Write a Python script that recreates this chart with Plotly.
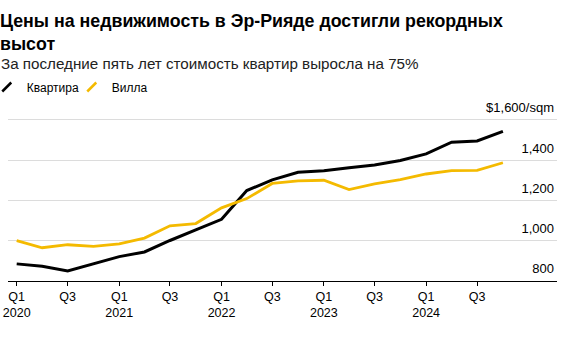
import plotly.graph_objects as go
import pandas as pd

quarters = ["2020Q1", "2020Q2", "2020Q3", "2020Q4",
            "2021Q1", "2021Q2", "2021Q3", "2021Q4",
            "2022Q1", "2022Q2", "2022Q3", "2022Q4",
            "2023Q1", "2023Q2", "2023Q3", "2023Q4",
            "2024Q1", "2024Q2", "2024Q3", "2024Q4"]
apartment = [885, 873, 850, 885, 921, 944, 1001, 1054, 1106, 1249,
             1302, 1340, 1347, 1362, 1376, 1398, 1431, 1489, 1495, 1543]
villa = [1000, 965, 980, 972, 984, 1013, 1074, 1085, 1163, 1209,
         1284, 1297, 1300, 1254, 1282, 1303, 1331, 1348, 1349, 1387]

tick_quarters = ["2020Q1", "2020Q3", "2021Q1", "2021Q3", "2022Q1",
                 "2022Q3", "2023Q1", "2023Q3", "2024Q1", "2024Q3"]
tick_text = ["Q1<br>2020", "Q3", "Q1<br>2021", "Q3", "Q1<br>2022",
             "Q3", "Q1<br>2023", "Q3", "Q1<br>2024", "Q3"]
y_ticks = [800, 1000, 1200, 1400, 1600]
y_text = ["800", "1,000", "1,200", "1,400", "$1,600/sqm"]

names = ["Квартира", "Вилла"]
colors = ["#000000", "#F4BA00"]

x = pd.PeriodIndex(quarters, freq="Q").to_timestamp()
tickvals = pd.PeriodIndex(tick_quarters, freq="Q").to_timestamp()

FONT = "Liberation Sans, Arial, sans-serif"

fig = go.Figure()
for name, vals, col, w in [(names[0], apartment, colors[0], 3), (names[1], villa, colors[1], 2.8)]:
    fig.add_trace(go.Scatter(x=x, y=vals, mode="lines", name=name,
                             line=dict(color=col, width=w), showlegend=False))
# legend entries
for name, col in zip(names, colors):
    fig.add_trace(go.Scatter(x=[None], y=[None], mode="markers", name=name,
                             marker=dict(symbol="line-ne", size=9,
                                         line=dict(color=col, width=2.5))))

PLOT_TOP = 100
PLOT_H = 281 - PLOT_TOP

fig.update_layout(
    width=580, height=342,
    margin=dict(l=8, r=23, t=PLOT_TOP, b=342 - 281, autoexpand=False),
    paper_bgcolor="white", plot_bgcolor="white",
    font=dict(family=FONT, size=13, color="#000000"),
    title=dict(text="<b>Цены на недвижимость в Эр-Рияде достигли рекордных<br>высот</b>",
               font=dict(family=FONT, size=17.8, color="#000000"),
               x=0.0, xref="container", xanchor="left",
               y=1 - 26.5 / 342, yref="container", yanchor="middle"),
    showlegend=True,
    legend=dict(orientation="h", x=-0.0387, xref="paper", xanchor="left",
                y=1 - 87 / 342, yref="container", yanchor="middle",
                font=dict(family=FONT, size=12, color="#000000"),
                bgcolor="rgba(0,0,0,0)", itemwidth=30, traceorder="normal",
                entrywidth=40, entrywidthmode="pixels"),
    annotations=[dict(text="За последние пять лет стоимость квартир выросла на 75%",
                      xref="paper", yref="paper", x=-9 / 549, y=(281 - 63.5) / PLOT_H,
                      xanchor="left", yanchor="middle", showarrow=False,
                      font=dict(family=FONT, size=15.2, color="#222222"))],
)

fig.update_xaxes(
    type="date", range=["2019-12-01", "2025-04-12"],
    tickvals=tickvals, ticktext=tick_text,
    showline=True, linecolor="#000000", linewidth=1,
    ticks="outside", ticklen=4, tickcolor="#000000", tickwidth=1,
    showgrid=False, zeroline=False,
    tickfont=dict(family=FONT, size=12.5, color="#000000"),
)
fig.update_yaxes(
    range=[800, 800 + PLOT_H / 0.2015], side="right", ticklabelposition="inside top",
    tickvals=y_ticks, ticktext=y_text, ticklabelshift=-3,
    showgrid=True, gridcolor="#dcdcdc", gridwidth=1,
    showline=False, zeroline=False, ticks="",
    tickfont=dict(family=FONT, size=13, color="#000000"),
)

fig.write_html("out.html")
